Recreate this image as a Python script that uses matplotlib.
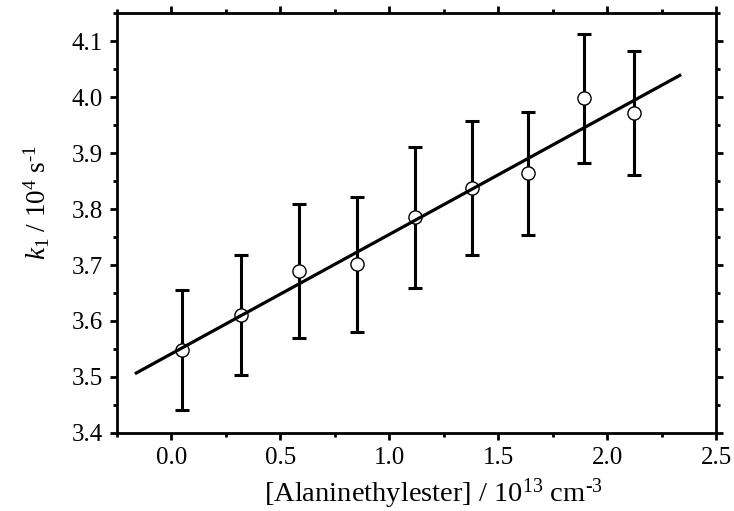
import numpy as np
import matplotlib.pyplot as plt
from matplotlib.ticker import MultipleLocator

plt.rcParams['font.family'] = 'Liberation Serif'
plt.rcParams['mathtext.fontset'] = 'custom'
plt.rcParams['mathtext.rm'] = 'Liberation Serif'
plt.rcParams['mathtext.it'] = 'Liberation Serif:italic'

# data
conc = [0.05, 0.32, 0.587, 0.853, 1.117, 1.38, 1.637, 1.892, 2.121]
k1 = [3.548, 3.610, 3.689, 3.701, 3.785, 3.838, 3.864, 3.998, 3.972]
k1_err = [0.108, 0.107, 0.120, 0.121, 0.126, 0.120, 0.110, 0.115, 0.111]

# linear fit line (end points)
fit_x = [-0.16, 2.332]
fit_y = [3.507, 4.039]

fig = plt.figure(figsize=(7.34, 5.11), dpi=100)
ax = fig.add_axes([0.159, 0.153, 0.817, 0.821])

ax.errorbar(conc, k1, yerr=k1_err, fmt='none', ecolor='black',
            elinewidth=2.2, capsize=5, capthick=2.2, zorder=2)
ax.plot(conc, k1, 'o', ms=9.5, mfc='white', mec='black', mew=1.0, zorder=3)
ax.plot(fit_x, fit_y, '-', color='black', lw=2.3, zorder=4)

ax.set_xlim(-0.25, 2.5)
ax.set_ylim(3.4, 4.15)
ax.xaxis.set_major_locator(MultipleLocator(0.5))
ax.xaxis.set_minor_locator(MultipleLocator(0.25))
ax.yaxis.set_major_locator(MultipleLocator(0.1))
ax.yaxis.set_minor_locator(MultipleLocator(0.05))
ax.xaxis.set_major_formatter(plt.FormatStrFormatter('%.1f'))
ax.yaxis.set_major_formatter(plt.FormatStrFormatter('%.1f'))

ax.tick_params(which='both', direction='out', top=True, right=True, width=2)
ax.tick_params(which='major', length=5, labelsize=18, pad=5)
ax.tick_params(which='minor', length=3)
for s in ax.spines.values():
    s.set_linewidth(2)

ax.set_xlabel(r"[Alaninethylester] / 10$^{13}$ cm$^{\text{-3}}$", fontsize=20.5)
ax.set_ylabel(r"$k_1$ / 10$^{4}$ s$^{\text{-1}}$", fontsize=19.5)
ax.xaxis.set_label_coords(0.528, -0.104)
ax.yaxis.set_label_coords(-0.108, 0.55)

plt.savefig("out.png", dpi=100)
